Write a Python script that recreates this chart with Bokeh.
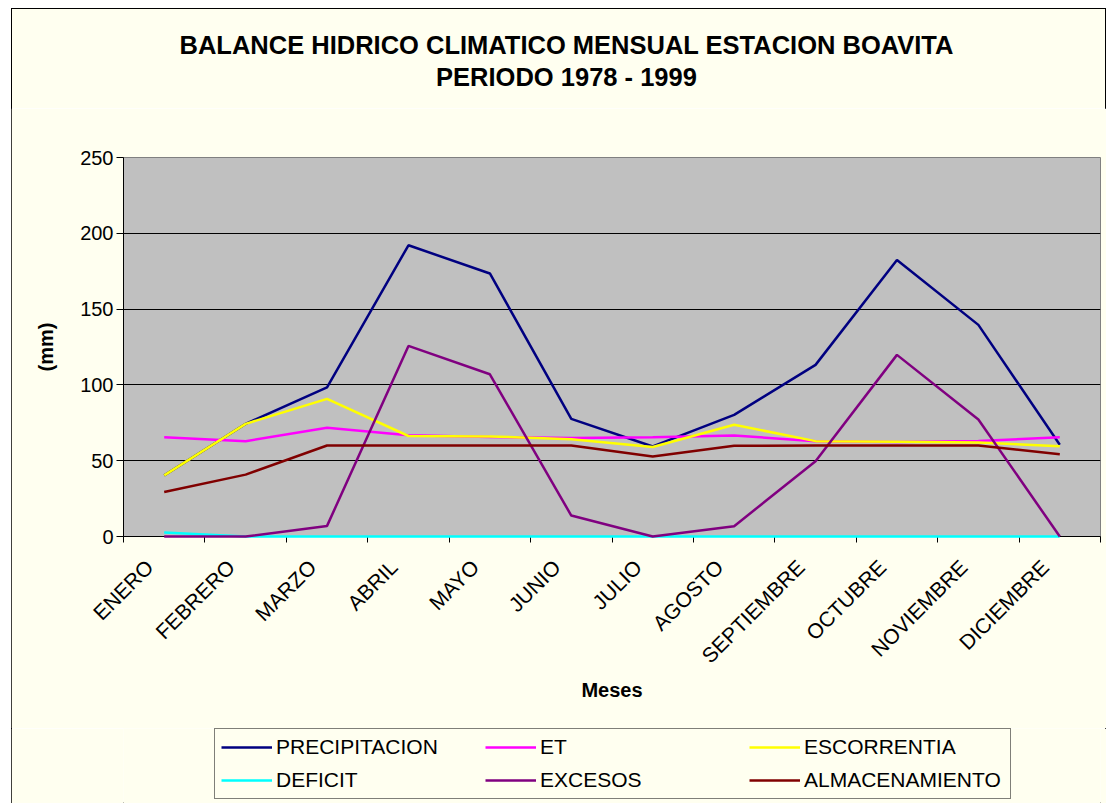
import math
from bokeh.plotting import figure
from bokeh.models import (Range1d, LinearAxis, FixedTicker, Legend, LegendItem, Spacer, Div)
from bokeh.layouts import row, column
from bokeh.embed import file_html
from bokeh.resources import INLINE

meses = ["ENERO", "FEBRERO", "MARZO", "ABRIL", "MAYO", "JUNIO", "JULIO",
         "AGOSTO", "SEPTIEMBRE", "OCTUBRE", "NOVIEMBRE", "DICIEMBRE"]
precipitacion = [40.3, 74.3, 98.4, 192.1, 173.5, 77.6, 59.4, 80.2, 113.2, 182.4, 139.6, 60.5]
et = [65.5, 62.9, 71.7, 66.8, 65.6, 64.9, 65.5, 66.6, 62.9, 62.4, 63.0, 65.5]
escorrentia = [40.3, 74.3, 90.8, 66.3, 66.0, 64.2, 59.0, 73.7, 62.9, 62.5, 62.0, 59.6]
deficit = [2.6, 0.0, 0.0, 0.0, 0.0, 0.0, 0.0, 0.0, 0.0, 0.0, 0.0, 0.0]
excesos = [0.0, 0.0, 7.0, 125.7, 107.0, 13.8, 0.0, 6.8, 49.7, 119.8, 77.2, 0.0]
almacenamiento = [29.3, 40.8, 60.0, 60.0, 60.0, 60.0, 52.8, 59.9, 60.0, 60.0, 60.0, 54.3]
y_ticks = [0, 50, 100, 150, 200, 250]
titulo = ["BALANCE HIDRICO CLIMATICO MENSUAL ESTACION BOAVITA", "PERIODO 1978 - 1999"]

series_names = ["PRECIPITACION", "ET", "ESCORRENTIA", "DEFICIT", "EXCESOS", "ALMACENAMIENTO"]
series_values = [precipitacion, et, escorrentia, deficit, excesos, almacenamiento]
series_colors = ["#000080", "#FF00FF", "#FFFF00", "#00FFFF", "#800080", "#800000"]

FONT = "Liberation Sans"
CREAM = "#FFFFF0"

# category slot centres on a numeric axis (one unit per month)
centres = [i + 0.5 for i in range(len(meses))]
edges = list(range(len(meses) + 1))
label_pos = [c - 0.18 for c in centres]   # rotated labels sit slightly left of the slot centre

title_div = Div(
    text=('<div style="box-sizing:border-box;width:1095px;height:100px;'
          'border:1px solid black;border-bottom:none;'
          'font-family:\'Liberation Sans\';font-weight:bold;font-size:25.5px;'
          'line-height:32px;text-align:center;color:black;padding-top:20px;'
          'padding-left:16px;white-space:nowrap;">'
          + titulo[0] + '<br>' + titulo[1] + '</div>'),
    width=1095, height=100, margin=0,
    styles={"background-color": CREAM},
)

p = figure(x_range=Range1d(0, len(meses)), y_range=Range1d(0, 250),
           width=1095, height=620, output_backend="svg", toolbar_location=None,
           x_axis_location=None,
           min_border_left=112, min_border_right=6, min_border_top=49, min_border_bottom=192,
           background_fill_color="#C0C0C0", border_fill_color=CREAM)
p.outline_line_color = "#808080"
p.outline_line_width = 1

xaxis = LinearAxis(
    ticker=FixedTicker(ticks=label_pos, minor_ticks=edges),
    major_label_overrides={c: m for c, m in zip(label_pos, meses)},
)
xaxis.major_tick_out = 0
xaxis.major_tick_in = 0
xaxis.minor_tick_out = 6
xaxis.minor_tick_in = 0
xaxis.minor_tick_line_color = "black"
xaxis.axis_line_color = "black"
xaxis.major_label_orientation = math.pi / 4
xaxis.major_label_text_font = FONT
xaxis.major_label_text_font_size = "21px"
xaxis.major_label_text_color = "black"
xaxis.major_label_standoff = 21
xaxis.axis_label = "Meses"
xaxis.axis_label_text_font = FONT
xaxis.axis_label_text_font_size = "20px"
xaxis.axis_label_text_font_style = "bold"
xaxis.axis_label_text_color = "black"
xaxis.axis_label_standoff = 1
p.add_layout(xaxis, "below")

yaxis = p.yaxis[0]
yaxis.ticker = FixedTicker(ticks=y_ticks, minor_ticks=[])
yaxis.major_tick_out = 7
yaxis.major_tick_in = 0
yaxis.major_tick_line_color = "black"
yaxis.axis_line_color = "black"
yaxis.major_label_text_font = FONT
yaxis.major_label_text_font_size = "20px"
yaxis.major_label_text_color = "black"
yaxis.major_label_standoff = 3
yaxis.axis_label = "(mm)"
yaxis.axis_label_text_font = FONT
yaxis.axis_label_text_font_size = "20px"
yaxis.axis_label_text_font_style = "bold"
yaxis.axis_label_text_color = "black"
yaxis.axis_label_standoff = 20

p.ygrid.ticker = FixedTicker(ticks=y_ticks)
p.ygrid.grid_line_color = "black"
p.ygrid.grid_line_width = 1
p.xgrid.visible = False
p.title.text = ""

# series drawn above the axis line, as in the original (zero-valued lines cover it)
for name, vals, col in zip(series_names, series_values, series_colors):
    p.line(centres, vals, line_color=col, line_width=2.5, level="overlay")

# legend strip below the chart (its own small canvas so the box is not clipped)
pl = figure(x_range=Range1d(0, 1), y_range=Range1d(0, 1), width=1095, height=75,
            output_backend="svg", toolbar_location=None,
            x_axis_location=None, y_axis_location=None,
            min_border=0, background_fill_color=CREAM, border_fill_color=CREAM)
pl.outline_line_color = None
pl.xgrid.visible = False
pl.ygrid.visible = False
pl.title.text = ""
items = []
for name, vals, col in zip(series_names, series_values, series_colors):
    r = pl.line(centres, vals, line_color=col, line_width=2.5, visible=False)
    items.append(LegendItem(label=name, renderers=[r]))
legend = Legend(items=items, location=(91, 4), orientation="horizontal", ncols=3,
                label_text_font=FONT, label_text_font_size="21px", label_text_color="black",
                glyph_width=51, glyph_height=20, label_height=20, label_width=200,
                label_standoff=4, spacing=9, padding=6, margin=0,
                background_fill_color=CREAM, background_fill_alpha=1.0,
                border_line_color="black", border_line_width=1)
pl.add_layout(legend)

chart = column(title_div, p, pl, styles={"outline": "1px solid black", "outline-offset": "-1px"})
layout = column(Spacer(width=1106, height=8), row(Spacer(width=11, height=795), chart))

with open("out.html", "w") as f:
    f.write(file_html(layout, INLINE))
